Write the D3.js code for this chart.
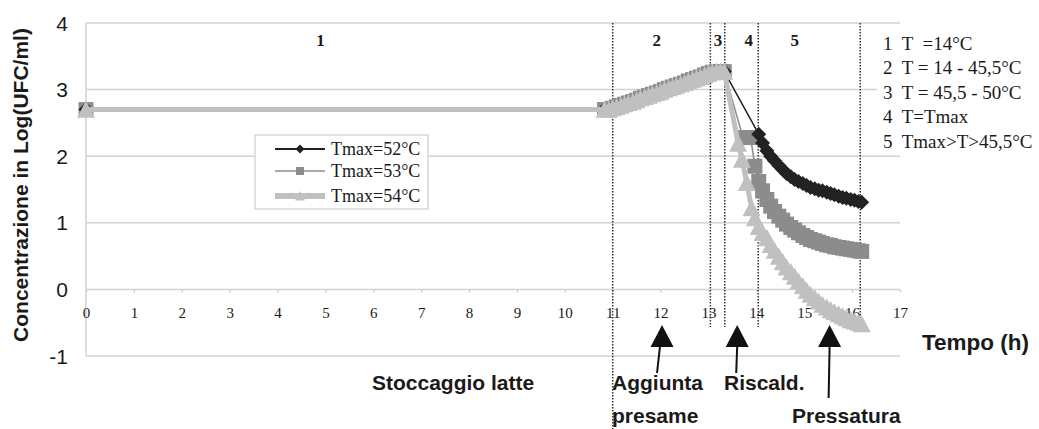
<!DOCTYPE html>
<html>
<head>
<meta charset="utf-8">
<script src="https://cdn.jsdelivr.net/npm/d3@7"></script>
<style>
body{margin:0;background:#fff;}
text{fill:#1a1a1a;}
.sans{font-family:'Liberation Sans',Arial,sans-serif;}
.serif{font-family:'Liberation Serif','Times New Roman',serif;}
</style>
</head>
<body>
<div id="app"></div>
<script>
// tempo in ore (un punto ogni 5 min), valori in Log(UFC/ml)
const tempiComuni = [0, 10.83, 10.92, 11.0, 11.08, 11.17, 11.25, 11.33, 11.42, 11.5, 11.58, 11.67, 11.75, 11.83, 11.92, 12.0,
    12.08, 12.17, 12.25, 12.33, 12.42, 12.5, 12.58, 12.67, 12.75, 12.83, 12.92, 13.0, 13.08, 13.17, 13.25, 13.33];
const valoriComuni = [2.70, 2.70, 2.70, 2.72, 2.74, 2.76, 2.78, 2.80, 2.82, 2.84, 2.87, 2.89, 2.91, 2.93, 2.95, 2.97,
    3.00, 3.02, 3.04, 3.06, 3.08, 3.10, 3.13, 3.15, 3.17, 3.19, 3.22, 3.24, 3.26, 3.27, 3.27, 3.27];

const tempi52 = [14.05, 14.13, 14.22, 14.30, 14.38, 14.47, 14.55, 14.63, 14.72, 14.80, 14.88, 14.97, 15.05, 15.13,
    15.22, 15.30, 15.38, 15.47, 15.55, 15.63, 15.72, 15.80, 15.88, 15.97, 16.05, 16.13, 16.2];
const valori52 = [2.33, 2.20, 2.08, 2.00, 1.93, 1.86, 1.80, 1.74, 1.69, 1.65, 1.62, 1.59, 1.56, 1.53,
    1.51, 1.49, 1.48, 1.46, 1.44, 1.42, 1.40, 1.38, 1.37, 1.35, 1.34, 1.32, 1.31];

const tempi53 = [13.72, 13.80, 13.88, 13.97, 14.05, 14.13, 14.22, 14.30, 14.38, 14.47, 14.55, 14.63, 14.72, 14.80, 14.88,
    14.97, 15.05, 15.13, 15.22, 15.30, 15.38, 15.47, 15.55, 15.63, 15.72, 15.80, 15.88, 15.97, 16.05, 16.13, 16.2];
const valori53 = [2.28, 2.28, 2.28, 1.85, 1.62, 1.48, 1.35, 1.25, 1.17, 1.10, 1.04, 0.98, 0.93, 0.89, 0.85,
    0.81, 0.78, 0.75, 0.73, 0.71, 0.69, 0.67, 0.66, 0.64, 0.63, 0.62, 0.61, 0.60, 0.59, 0.58, 0.57];

const tempi54 = [13.62, 13.70, 13.80, 13.90, 13.97, 14.05, 14.13, 14.22, 14.30, 14.38, 14.47, 14.55, 14.63, 14.72, 14.80,
    14.88, 14.97, 15.05, 15.13, 15.22, 15.30, 15.38, 15.47, 15.55, 15.63, 15.72, 15.80, 15.88, 15.97, 16.05, 16.13, 16.2];
const valori54 = [2.19, 1.95, 1.60, 1.22, 1.07, 0.94, 0.85, 0.77, 0.67, 0.58, 0.49, 0.41, 0.33, 0.26, 0.19,
    0.12, 0.05, -0.02, -0.08, -0.13, -0.18, -0.23, -0.27, -0.31, -0.34, -0.37, -0.40, -0.43, -0.46, -0.48, -0.50, -0.52];

const serieNomi = ['Tmax=52°C', 'Tmax=53°C', 'Tmax=54°C'];

const yTicks = [-1, 0, 1, 2, 3, 4];
const xTicks = d3.range(0, 18);

// limiti delle fasi (ore) e numeri delle fasi
const fasiLimiti = [11.0, 13.04, 13.34, 14.04, 16.17];
const fasiNumeri = ['1', '2', '3', '4', '5'];
const fasiPosizioni = [4.9, 11.92, 13.2, 13.84, 14.8];

const legendaFasi = ['1  T  =14°C', '2  T = 14 - 45,5°C', '3  T = 45,5 - 50°C', '4  T=Tmax', '5  Tmax>T>45,5°C'];

const frecceTempi = [12.03, 13.6, 15.53];

const W = 1039, H = 429;

const x = d3.scaleLinear().domain([0, 17]).range([86, 900]);
const y = d3.scaleLinear().domain([-1, 4]).range([356, 23]);

const svg = d3.select('#app').append('svg')
    .attr('width', W).attr('height', H)
    .style('display', 'block');

// griglia orizzontale
svg.append('g')
    .selectAll('line')
    .data(yTicks)
    .join('line')
    .attr('x1', x(0)).attr('x2', x(17))
    .attr('y1', d => y(d)).attr('y2', d => y(d))
    .attr('stroke', '#d2d2d2').attr('stroke-width', 1.5);

svg.append('line')
    .attr('x1', x(0)).attr('x2', x(0))
    .attr('y1', y(4)).attr('y2', y(-1))
    .attr('stroke', '#d2d2d2').attr('stroke-width', 1.5);

// etichette asse y
svg.append('g')
    .selectAll('text')
    .data(yTicks)
    .join('text')
    .attr('class', 'sans')
    .attr('x', 68)
    .attr('y', d => y(d))
    .attr('dy', '0.36em')
    .attr('text-anchor', 'end')
    .style('font-size', '21px')
    .text(d => d);

// asse x sulla riga dello zero
const xAxis = svg.append('g')
    .attr('transform', `translate(0,${y(0)})`)
    .call(d3.axisBottom(x).tickValues(xTicks).tickSize(3).tickPadding(15).tickFormat(d3.format('d')));
xAxis.select('.domain').remove();
xAxis.selectAll('.tick line').attr('stroke', '#c8c8c8').attr('stroke-width', 1.2);
xAxis.selectAll('.tick text')
    .attr('class', 'serif')
    .style('font-size', '15px')
    .attr('fill', '#333');

// box bianco per la legenda delle fasi
svg.append('rect')
    .attr('x', 877).attr('y', 28).attr('width', 162).attr('height', 126)
    .attr('fill', '#fff');

// linee tratteggiate delle fasi
svg.append('g')
    .selectAll('line')
    .data(fasiLimiti)
    .join('line')
    .attr('x1', d => x(d)).attr('x2', d => x(d))
    .attr('y1', y(4))
    .attr('y2', (d, i) => i === 0 ? H : 327)
    .attr('stroke', '#333')
    .attr('stroke-width', 1.5)
    .attr('stroke-dasharray', '1.4,1.6');

svg.append('g')
    .selectAll('text')
    .data(fasiNumeri)
    .join('text')
    .attr('class', 'serif')
    .attr('x', (d, i) => x(fasiPosizioni[i]))
    .attr('y', 46)
    .attr('text-anchor', 'middle')
    .style('font-size', '17px')
    .style('font-weight', 'bold')
    .text(d => d);

// serie
const shapes = {
    diamond: r => `M0,${-r}L${r},0L0,${r}L${-r},0Z`,
    square: r => `M${-r},${-r}h${2 * r}v${2 * r}h${-2 * r}Z`,
    triangle: r => `M0,${-r}L${r},${r * 0.9}L${-r},${r * 0.9}Z`
};

const build = (t, v) => tempiComuni.map((d, i) => ({t: d, v: valoriComuni[i]}))
    .concat(t.map((d, i) => ({t: d, v: v[i]})));

const serie = [
    {name: serieNomi[0], points: build(tempi52, valori52), color: '#222', width: 1.5, shape: 'diamond', r: 7.5, lr: 4.5, lw: 2},
    {name: serieNomi[1], points: build(tempi53, valori53), color: '#8c8c8c', width: 1.5, shape: 'square', r: 7.5, lr: 4, lw: 1.5},
    {name: serieNomi[2], points: build(tempi54, valori54), color: '#c0c0c0', width: 5, shape: 'triangle', r: 9, lr: 5, lw: 6}
];

const line = d3.line().x(d => x(d.t)).y(d => y(d.v));

// ordine di disegno: 53, 52, 54
[serie[1], serie[0], serie[2]].forEach(s => {
    const g = svg.append('g');
    g.append('path')
        .datum(s.points)
        .attr('d', line)
        .attr('fill', 'none')
        .attr('stroke', s.color)
        .attr('stroke-width', s.width)
        .attr('stroke-linejoin', 'round');
    g.selectAll('path.m')
        .data(s.points)
        .join('path')
        .attr('class', 'm')
        .attr('transform', d => `translate(${x(d.t)},${y(d.v)})`)
        .attr('d', shapes[s.shape](s.r))
        .attr('fill', s.color);
});

// legenda serie
const leg = svg.append('g').attr('transform', 'translate(255,135)');
leg.append('rect')
    .attr('width', 173).attr('height', 74)
    .attr('fill', '#fff').attr('stroke', '#cfcfcf').attr('stroke-width', 1.2);
const rows = leg.selectAll('g')
    .data(serie)
    .join('g')
    .attr('transform', (d, i) => `translate(0,${[14, 36, 61][i]})`);
rows.append('line')
    .attr('x1', 20).attr('x2', 70)
    .attr('stroke', d => d.color)
    .attr('stroke-width', d => d.lw);
rows.append('path')
    .attr('transform', 'translate(45,0)')
    .attr('d', d => shapes[d.shape](d.lr))
    .attr('fill', d => d.color);
rows.append('text')
    .attr('class', 'serif')
    .attr('x', 76)
    .attr('dy', '0.33em')
    .style('font-size', '18px')
    .text(d => d.name);

// legenda fasi
svg.append('g')
    .selectAll('text')
    .data(legendaFasi)
    .join('text')
    .attr('class', 'serif')
    .attr('x', 883)
    .attr('y', (d, i) => 50 + i * 24.4)
    .style('font-size', '19px')
    .style('white-space', 'pre')
    .text(d => d);

// frecce
const frecce = svg.append('g');
frecceTempi.forEach((t, i) => {
    const cx = x(t);
    frecce.append('path')
        .attr('d', `M${cx},325L${cx + 11.5},347L${cx - 11.5},347Z`)
        .attr('fill', '#111');
    frecce.append('line')
        .attr('x1', cx - (i === 0 ? 2 : 0)).attr('y1', 346)
        .attr('x2', cx - (i === 0 ? 5 : 1)).attr('y2', i === 2 ? 398 : 373)
        .attr('stroke', '#111').attr('stroke-width', 2);
});

// testi
const labels = [
    {t: 'Stoccaggio latte', x: 372, y: 390, s: 21},
    {t: 'Aggiunta', x: 612, y: 390, s: 21},
    {t: 'presame', x: 612, y: 423, s: 21},
    {t: 'Riscald.', x: 724, y: 390, s: 21},
    {t: 'Pressatura', x: 792, y: 423, s: 21},
    {t: 'Tempo (h)', x: 922, y: 350, s: 22.5}
];
svg.append('g')
    .selectAll('text')
    .data(labels)
    .join('text')
    .attr('class', 'sans')
    .attr('x', d => d.x).attr('y', d => d.y)
    .style('font-size', d => d.s + 'px')
    .style('font-weight', 'bold')
    .text(d => d.t);

svg.append('text')
    .attr('class', 'sans')
    .attr('transform', 'translate(28,185) rotate(-90)')
    .attr('text-anchor', 'middle')
    .style('font-size', '21px')
    .style('font-weight', 'bold')
    .text('Concentrazione in Log(UFC/ml)');
</script>
</body>
</html>
